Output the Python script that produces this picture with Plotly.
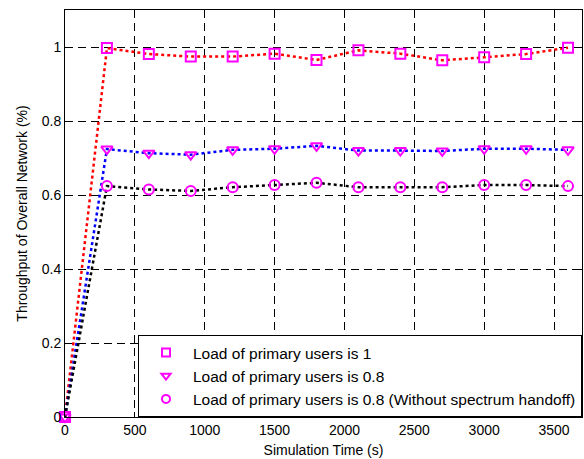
import plotly.graph_objects as go

time_s = [0, 300, 600, 900, 1200, 1500, 1800, 2100, 2400, 2700, 3000, 3300, 3600]
load_1 = [0, 0.997, 0.981, 0.974, 0.974, 0.982, 0.965, 0.991, 0.982, 0.964, 0.972, 0.981, 0.998]
load_08 = [0, 0.724, 0.713, 0.709, 0.722, 0.725, 0.733, 0.720, 0.720, 0.719, 0.725, 0.725, 0.722]
load_08_noho = [0, 0.624, 0.615, 0.611, 0.621, 0.627, 0.633, 0.621, 0.621, 0.621, 0.627, 0.627, 0.624]

names = ["Load of primary users is 1",
         "Load of primary users is 0.8",
         "Load of primary users is 0.8 (Without spectrum handoff)"]
line_colors = ["#ff0000", "#0000ff", "#000000"]
symbols = ["square-open", "triangle-down-open", "circle-open"]
series = [load_1, load_08, load_08_noho]

x_ticks = [0, 500, 1000, 1500, 2000, 2500, 3000, 3500]
y_ticks = [0, 0.2, 0.4, 0.6, 0.8, 1]
y_tick_text = ["0", "0.2", "0.4", "0.6", "0.8", "1"]

FONT = "Liberation Sans, Arial"
MAG = "#ff00ff"

fig = go.Figure()
for vals, col in zip(series, line_colors):
    fig.add_trace(go.Scatter(x=time_s, y=vals, mode="lines", showlegend=False,
                             line=dict(color=col, width=2.5, dash="dot"),
                             cliponaxis=False, hoverinfo="skip"))
for vals, sym in zip(series, symbols):
    fig.add_trace(go.Scatter(x=time_s, y=vals, mode="markers", showlegend=False,
                             marker=dict(symbol=sym, size=10, color=MAG,
                                         line=dict(width=2, color=MAG)),
                             cliponaxis=False))
# legend entries (markers only, smaller like the reference legend)
for i, (name, sym) in enumerate(zip(names, symbols)):
    fig.add_trace(go.Scatter(x=[None], y=[None], mode="markers", name=name,
                             legendgroup=f"g{i}",
                             marker=dict(symbol=sym, size=8, color=MAG,
                                         line=dict(width=2, color=MAG))))

axis_common = dict(showline=True, linecolor="black", linewidth=1, mirror="ticks",
                   ticks="inside", ticklen=5, tickcolor="black",
                   showgrid=True, gridcolor="black", gridwidth=1, griddash="8px,5px",
                   zeroline=False,
                   tickfont=dict(family=FONT, size=14, color="black"))

fig.update_xaxes(range=[0, 3700], tickvals=x_ticks,
                 title=dict(text="Simulation Time (s)", standoff=8,
                            font=dict(family=FONT, size=14, color="black")),
                 **axis_common)
fig.update_yaxes(range=[0, 1.1], tickvals=y_ticks, ticktext=y_tick_text,
                 title=dict(text="Throughput of Overall Network (%)", standoff=10,
                            font=dict(family=FONT, size=14, color="black")),
                 **axis_common)

fig.update_layout(
    width=584, height=459,
    margin=dict(l=65, r=2, t=10, b=42),
    paper_bgcolor="white", plot_bgcolor="white",
    showlegend=True,
    legend=dict(x=1, y=0, xanchor="right", yanchor="bottom",
                bgcolor="white", bordercolor="black", borderwidth=1,
                font=dict(family=FONT, size=15.5, color="black"),
                itemwidth=44, tracegroupgap=0),
)

fig.write_html("out.html")
